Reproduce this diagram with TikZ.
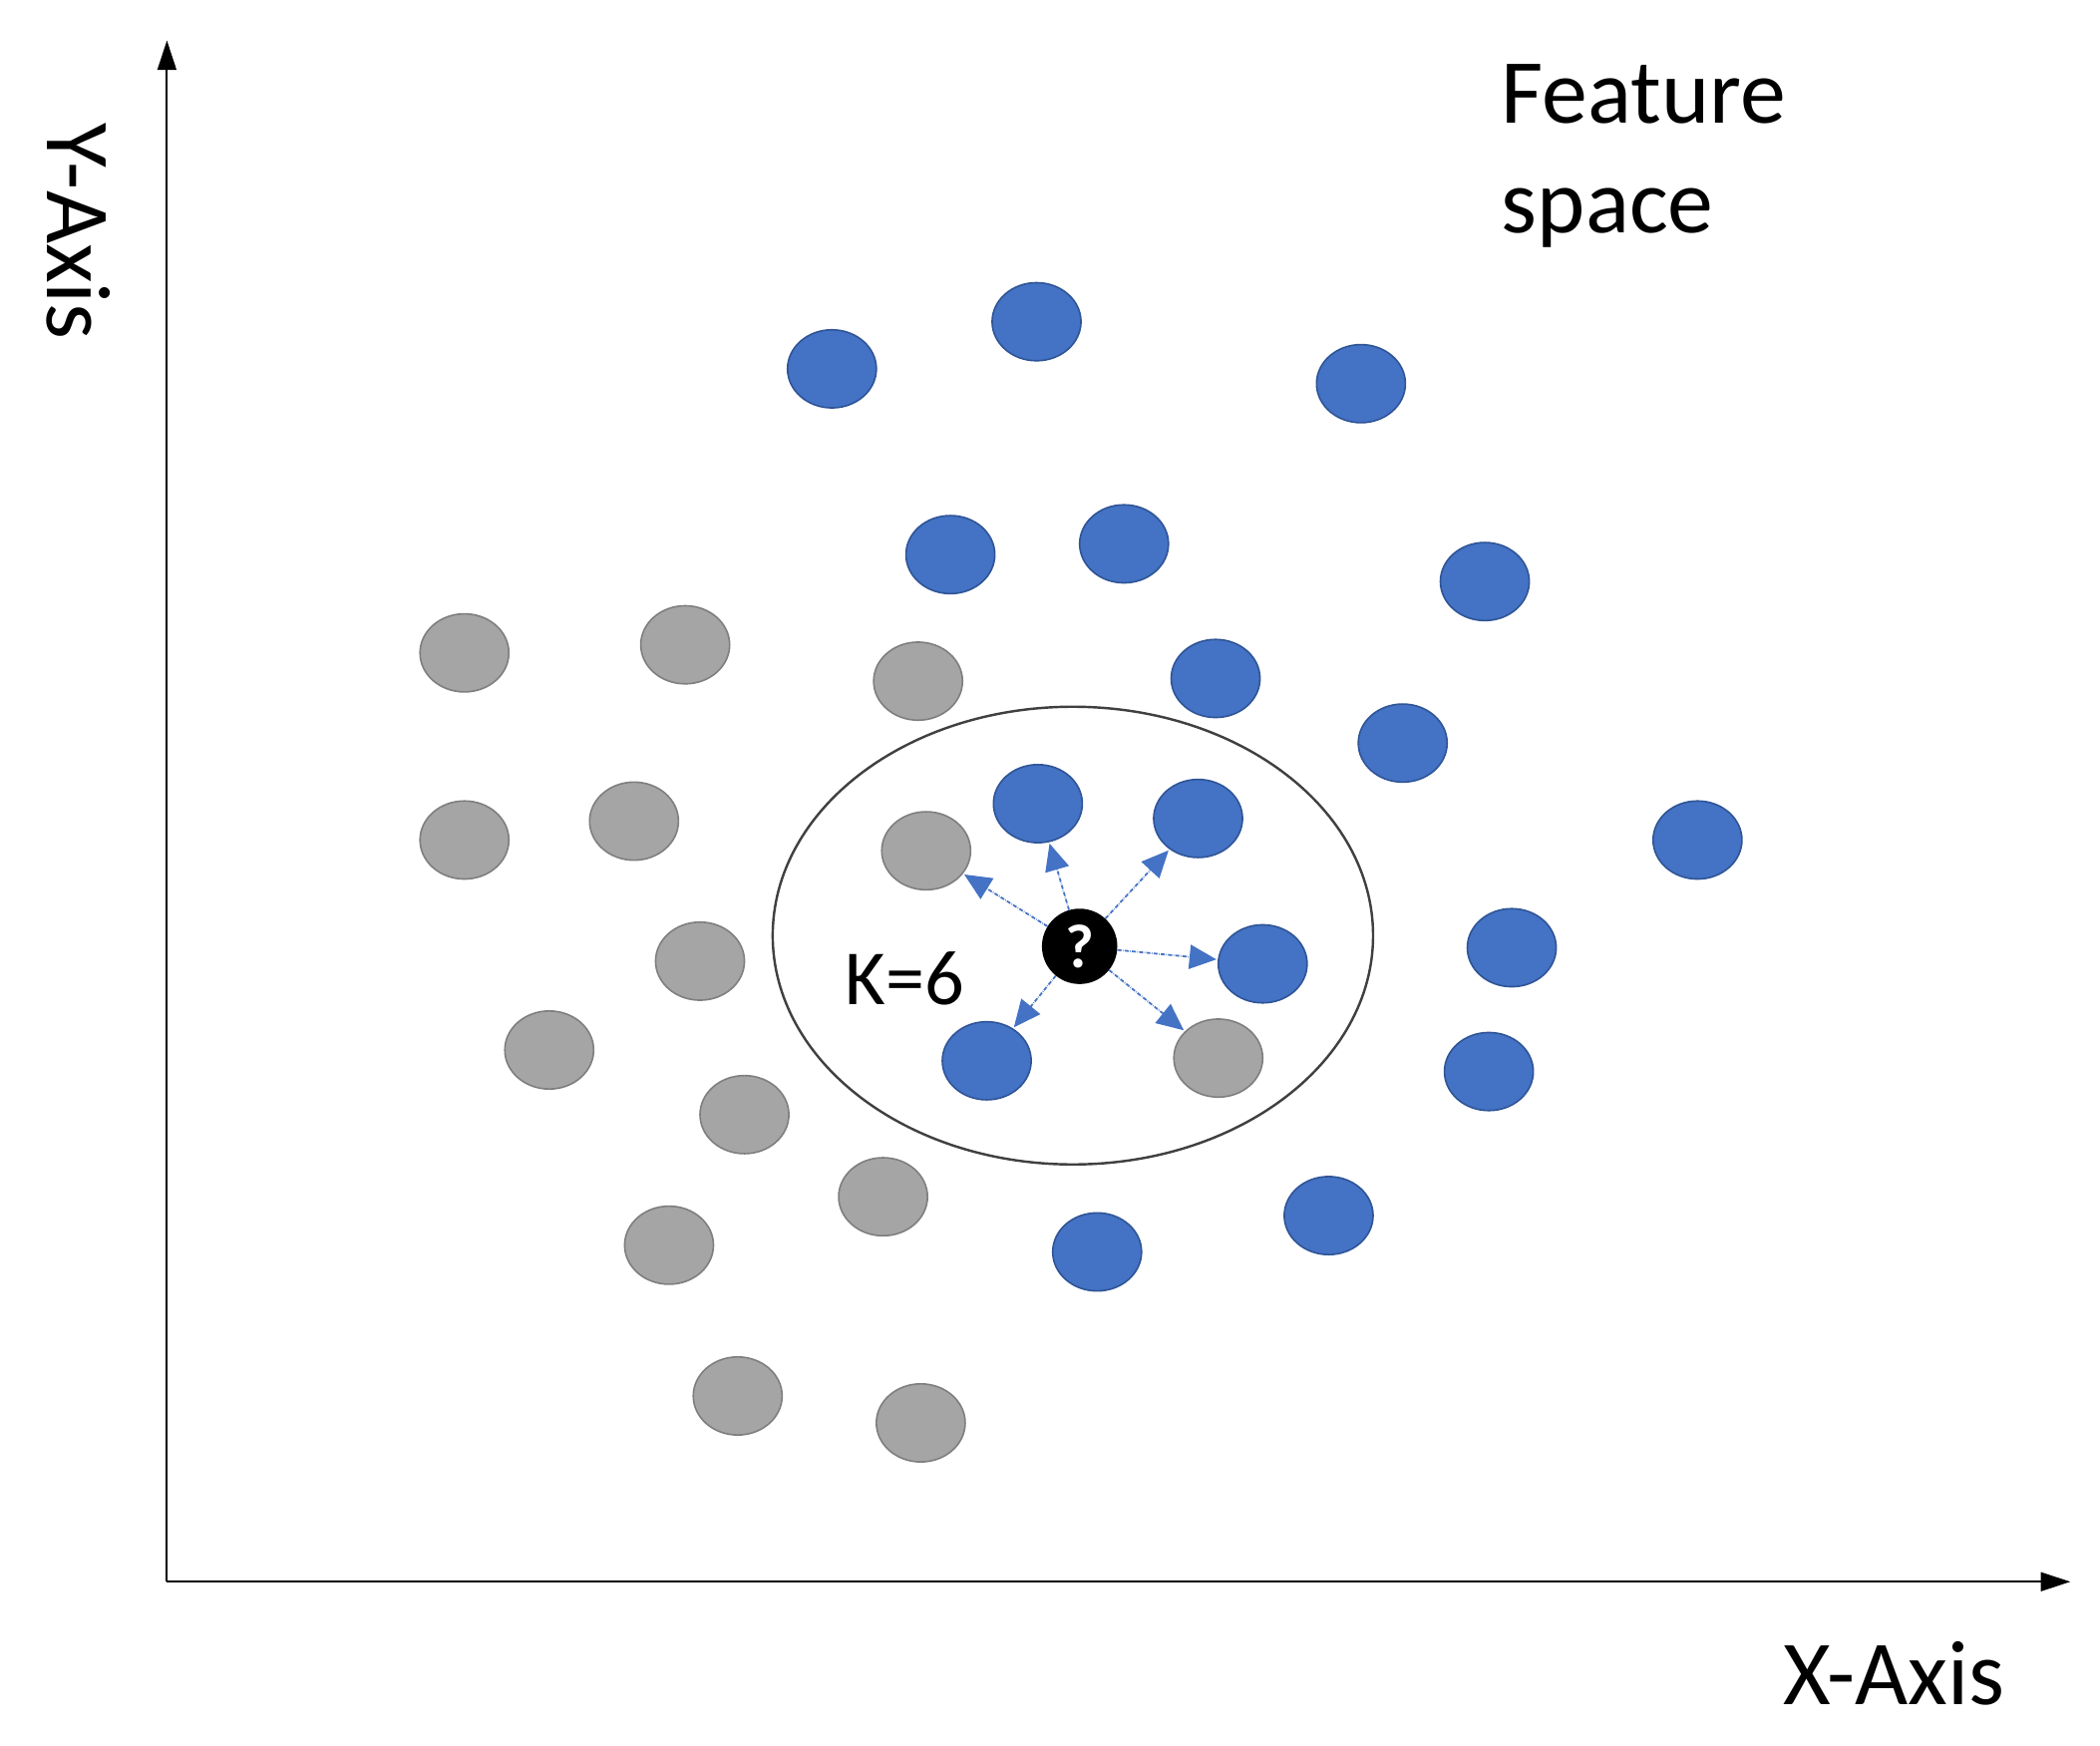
\documentclass[tikz,border=0pt]{standalone}
\usepackage{fontspec}
\setmainfont{Carlito}
\usetikzlibrary{arrows.meta,shapes.geometric}
\definecolor{bl}{HTML}{4472C4}
\definecolor{bld}{HTML}{2F5597}
\definecolor{gr}{HTML}{A5A5A5}
\definecolor{grd}{HTML}{7F7F7F}
\begin{document}
\begin{tikzpicture}[x=1pt,y=-1pt,
 dot/.style={ellipse,minimum width=66pt,minimum height=58pt,inner sep=0pt,line width=1.2pt},
 B/.style={dot,fill=bl,draw=bld},
 G/.style={dot,fill=gr,draw=grd},
 lab/.style={font=\fontsize{68}{82}\selectfont},
 nn/.style={draw=bl,densely dashdotted,line width=1.3pt,-{Triangle[length=20pt,width=18pt]},shorten >=1pt}]
\useasboundingbox (0,0) rectangle (1560,1297);
\node[draw=black!75,line width=1.8pt,ellipse,minimum width=446pt,minimum height=340pt] (ring) at (797,695) {};
\foreach \n/\p in {b1/{618,274},b2/{770,239},b3/{1011,285},b4/{706,412},b5/{835,404},b6/{1103,432},b7/{903,504},b8/{1042,552},b9/{1261,624},n1/{771,597},n2/{890,608},n3/{938,716},b10/{1123,704},n4/{733,788},b11/{1106,796},b12/{987,903},b13/{815,930}}
  \node[B] (\n) at (\p) {};
\foreach \n/\p in {g1/{345,485},g2/{509,479},g3/{682,506},g4/{345,624},g5/{471,610},n5/{688,632},g6/{520,714},g7/{408,780},g8/{553,828},n6/{905,786},g9/{656,889},g10/{497,925},g11/{548,1037},g12/{684,1057}}
  \node[G] (\n) at (\p) {};
\node[circle,fill=black,minimum size=56pt,inner sep=0pt,text=white,font=\fontsize{46}{46}\selectfont\bfseries] (q) at (802,703) {?};
\foreach \t in {n1,n2,n3,n4,n5,n6} \draw[nn] (q) -- (\t);
\coordinate (o) at (124,1175);
\coordinate (ytop) at (124,30);
\coordinate (xend) at (1538,1175);
\draw[line width=1.5pt,-{Triangle[length=22pt,width=14pt]}] (o) -- (ytop);
\draw[line width=1.5pt,-{Triangle[length=22pt,width=14pt]}] (o) -- (xend);
\node[lab,rotate=-90] (ya) at (58,172) {Y-Axis};
\node[lab] (xa) at (1407,1243) {X-Axis};
\node[lab,anchor=north west,align=left,text width=400pt] (fs) at (1112,44) {Feature\\space};
\node[font=\fontsize{58}{60}\selectfont] (k) at (672,727) {K=6};
\end{tikzpicture}
\end{document}
